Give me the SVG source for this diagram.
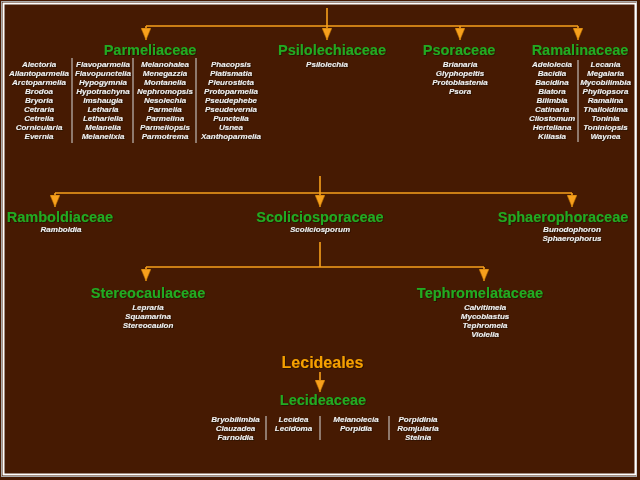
<svg xmlns="http://www.w3.org/2000/svg" width="640" height="480" viewBox="0 0 640 480">
<defs>
<filter id="sh" x="-10%" y="-30%" width="130%" height="170%"><feDropShadow dx="0.8" dy="0.8" stdDeviation="0.3" flood-color="#1a0a00" flood-opacity="0.9"/></filter>
<marker id="ar" viewBox="0 0 12 10" refX="12" refY="5" markerWidth="12" markerHeight="10" markerUnits="userSpaceOnUse" orient="auto">
<path d="M0,0 L12,5 L0,10 Z" fill="#f7a01c" stroke="#b06a00" stroke-width="0.6"/>
</marker>
</defs>
<style>
.fam{font-family:"Liberation Sans",Arial,sans-serif;font-weight:bold;font-size:14.5px;fill:#22aa22;text-anchor:middle;filter:url(#sh)}
.ord{font-family:"Liberation Sans",Arial,sans-serif;font-weight:bold;font-size:16px;fill:#f5a000;text-anchor:middle;filter:url(#sh)}
.gen{font-family:"Liberation Sans",Arial,sans-serif;font-weight:bold;font-style:italic;font-size:8px;fill:#f0f0f0;text-anchor:middle;filter:url(#sh)}
.sep{stroke:#d8d8d8;stroke-width:1}
.con{fill:none;stroke:#f7a01c;stroke-width:1.6}
</style>
<rect x="0" y="0" width="640" height="480" fill="#461a02"/>
<rect x="1.5" y="1.5" width="635" height="475" fill="none" stroke="#a8a8a8" stroke-width="1"/>
<rect x="3.5" y="3.5" width="632" height="471" fill="none" stroke="#ffffff" stroke-width="2"/>

<g id="connectors">
<path class="con" d="M327,8 V40" marker-end="url(#ar)"/>
<path class="con" d="M146,26 H578"/>
<path class="con" d="M146,26 V40" marker-end="url(#ar)"/>
<path class="con" d="M460,26 V40" marker-end="url(#ar)"/>
<path class="con" d="M578,26 V40" marker-end="url(#ar)"/>
<path class="con" d="M320,176 V207" marker-end="url(#ar)"/>
<path class="con" d="M55,193 H572"/>
<path class="con" d="M55,193 V207" marker-end="url(#ar)"/>
<path class="con" d="M572,193 V207" marker-end="url(#ar)"/>
<path class="con" d="M320,242 V267"/>
<path class="con" d="M146,267 H484"/>
<path class="con" d="M146,267 V281" marker-end="url(#ar)"/>
<path class="con" d="M484,267 V281" marker-end="url(#ar)"/>
<path class="con" d="M320,372 V392" marker-end="url(#ar)"/>
</g>

<g id="parmeliaceae">
<text class="fam" x="150" y="55">Parmeliaceae</text>
<text class="gen"><tspan x="39" y="67">Alectoria</tspan><tspan x="39" dy="9">Allantoparmelia</tspan><tspan x="39" dy="9">Arctoparmelia</tspan><tspan x="39" dy="9">Brodoa</tspan><tspan x="39" dy="9">Bryoria</tspan><tspan x="39" dy="9">Cetraria</tspan><tspan x="39" dy="9">Cetrelia</tspan><tspan x="39" dy="9">Cornicularia</tspan><tspan x="39" dy="9">Evernia</tspan></text>
<text class="gen"><tspan x="103" y="67">Flavoparmelia</tspan><tspan x="103" dy="9">Flavopunctelia</tspan><tspan x="103" dy="9">Hypogymnia</tspan><tspan x="103" dy="9">Hypotrachyna</tspan><tspan x="103" dy="9">Imshaugia</tspan><tspan x="103" dy="9">Letharia</tspan><tspan x="103" dy="9">Lethariella</tspan><tspan x="103" dy="9">Melanelia</tspan><tspan x="103" dy="9">Melanelixia</tspan></text>
<text class="gen"><tspan x="165" y="67">Melanohalea</tspan><tspan x="165" dy="9">Menegazzia</tspan><tspan x="165" dy="9">Montanelia</tspan><tspan x="165" dy="9">Nephromopsis</tspan><tspan x="165" dy="9">Nesolechia</tspan><tspan x="165" dy="9">Parmelia</tspan><tspan x="165" dy="9">Parmelina</tspan><tspan x="165" dy="9">Parmeliopsis</tspan><tspan x="165" dy="9">Parmotrema</tspan></text>
<text class="gen"><tspan x="231" y="67">Phacopsis</tspan><tspan x="231" dy="9">Platismatia</tspan><tspan x="231" dy="9">Pleurosticta</tspan><tspan x="231" dy="9">Protoparmelia</tspan><tspan x="231" dy="9">Pseudephebe</tspan><tspan x="231" dy="9">Pseudevernia</tspan><tspan x="231" dy="9">Punctelia</tspan><tspan x="231" dy="9">Usnea</tspan><tspan x="231" dy="9">Xanthoparmelia</tspan></text>
<line class="sep" x1="72" y1="58" x2="72" y2="143"/>
<line class="sep" x1="133" y1="58" x2="133" y2="143"/>
<line class="sep" x1="196" y1="58" x2="196" y2="143"/>
</g>

<g id="psilolechiaceae">
<text class="fam" x="332" y="55">Psilolechiaceae</text>
<text class="gen" x="327" y="67">Psilolechia</text>
</g>

<g id="psoraceae">
<text class="fam" x="459" y="55">Psoraceae</text>
<text class="gen"><tspan x="460" y="67">Brianaria</tspan><tspan x="460" dy="9">Glyphopeltis</tspan><tspan x="460" dy="9">Protoblastenia</tspan><tspan x="460" dy="9">Psora</tspan></text>
</g>

<g id="ramalinaceae">
<text class="fam" x="580" y="55">Ramalinaceae</text>
<text class="gen"><tspan x="552" y="67">Adelolecia</tspan><tspan x="552" dy="9">Bacidia</tspan><tspan x="552" dy="9">Bacidina</tspan><tspan x="552" dy="9">Biatora</tspan><tspan x="552" dy="9">Bilimbia</tspan><tspan x="552" dy="9">Catinaria</tspan><tspan x="552" dy="9">Cliostomum</tspan><tspan x="552" dy="9">Herteliana</tspan><tspan x="552" dy="9">Kiliasia</tspan></text>
<text class="gen"><tspan x="605.5" y="67">Lecania</tspan><tspan x="605.5" dy="9">Megalaria</tspan><tspan x="605.5" dy="9">Mycobilimbia</tspan><tspan x="605.5" dy="9">Phyllopsora</tspan><tspan x="605.5" dy="9">Ramalina</tspan><tspan x="605.5" dy="9">Thalloidima</tspan><tspan x="605.5" dy="9">Toninia</tspan><tspan x="605.5" dy="9">Toniniopsis</tspan><tspan x="605.5" dy="9">Waynea</tspan></text>
<line class="sep" x1="578" y1="60" x2="578" y2="142"/>
</g>

<g id="ramboldiaceae">
<text class="fam" x="60" y="222">Ramboldiaceae</text>
<text class="gen" x="61" y="232">Ramboldia</text>
</g>

<g id="scoliciosporaceae">
<text class="fam" x="320" y="222">Scoliciosporaceae</text>
<text class="gen" x="320" y="232">Scoliciosporum</text>
</g>

<g id="sphaerophoraceae">
<text class="fam" x="563" y="222">Sphaerophoraceae</text>
<text class="gen"><tspan x="572" y="232">Bunodophoron</tspan><tspan x="572" dy="9">Sphaerophorus</tspan></text>
</g>

<g id="stereocaulaceae">
<text class="fam" x="148" y="298">Stereocaulaceae</text>
<text class="gen"><tspan x="148" y="309.5">Lepraria</tspan><tspan x="148" dy="9">Squamarina</tspan><tspan x="148" dy="9">Stereocaulon</tspan></text>
</g>

<g id="tephromelataceae">
<text class="fam" x="480" y="298">Tephromelataceae</text>
<text class="gen"><tspan x="485" y="309.5">Calvitimela</tspan><tspan x="485" dy="9">Mycoblastus</tspan><tspan x="485" dy="9">Tephromela</tspan><tspan x="485" dy="9">Violella</tspan></text>
</g>

<g id="lecideales">
<text class="ord" x="322.5" y="368">Lecideales</text>
</g>

<g id="lecideaceae">
<text class="fam" x="323" y="405">Lecideaceae</text>
<text class="gen"><tspan x="235.5" y="422">Bryobilimbia</tspan><tspan x="235.5" dy="9">Clauzadea</tspan><tspan x="235.5" dy="9">Farnoldia</tspan></text>
<text class="gen"><tspan x="293.5" y="422">Lecidea</tspan><tspan x="293.5" dy="9">Lecidoma</tspan></text>
<text class="gen"><tspan x="356" y="422">Melanolecia</tspan><tspan x="356" dy="9">Porpidia</tspan></text>
<text class="gen"><tspan x="418" y="422">Porpidinia</tspan><tspan x="418" dy="9">Romjularia</tspan><tspan x="418" dy="9">Stelnia</tspan></text>
<line class="sep" x1="266" y1="416" x2="266" y2="440"/>
<line class="sep" x1="320" y1="416" x2="320" y2="440"/>
<line class="sep" x1="389" y1="416" x2="389" y2="440"/>
</g>
</svg>
